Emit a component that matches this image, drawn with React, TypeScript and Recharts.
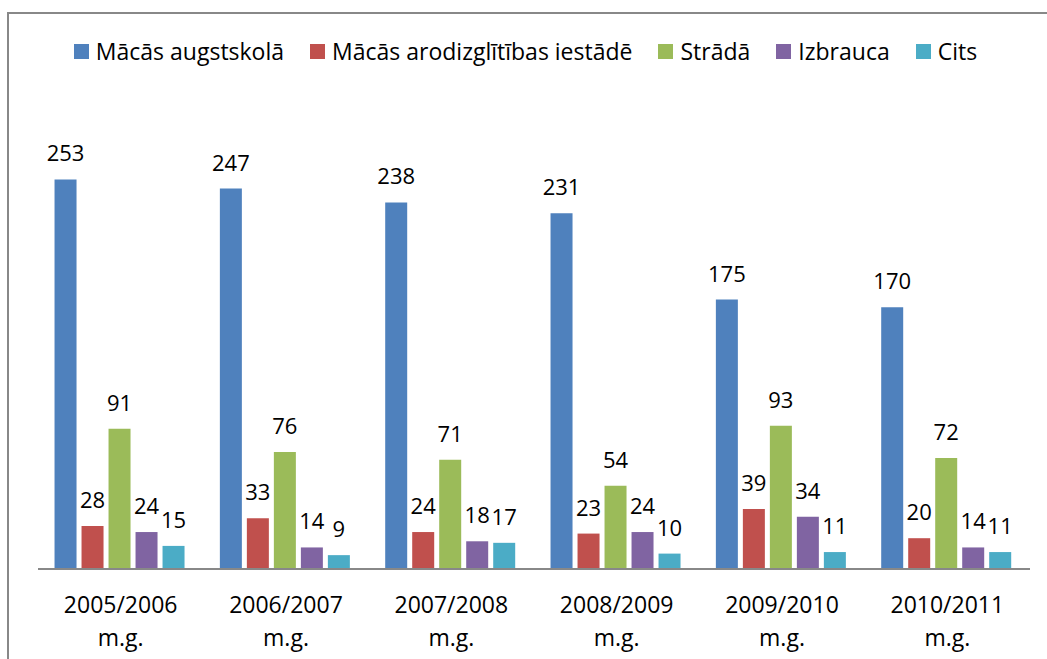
import { BarChart, Bar, XAxis, YAxis, Legend, LabelList } from 'recharts';

const W = 1047;
const H = 659;

// school years
const categories = ['2005/2006 m.g.', '2006/2007 m.g.', '2007/2008 m.g.', '2008/2009 m.g.', '2009/2010 m.g.', '2010/2011 m.g.'];

const augstskola = [253, 247, 238, 231, 175, 170];
const arodizglitiba = [28, 33, 24, 23, 39, 20];
const strada = [91, 76, 71, 54, 93, 72];
const izbrauca = [24, 14, 18, 24, 34, 14];
const cits = [15, 9, 17, 10, 11, 11];

const series = [
  { key: 'augstskola', name: 'Mācās augstskolā', color: '#4F81BD' },
  { key: 'arodizglitiba', name: 'Mācās arodizglītības iestādē', color: '#C0504D' },
  { key: 'strada', name: 'Strādā', color: '#9BBB59' },
  { key: 'izbrauca', name: 'Izbrauca', color: '#8064A2' },
  { key: 'cits', name: 'Cits', color: '#4BACC6' },
];

const data = categories.map((c, i) => ({
  name: c,
  augstskola: augstskola[i],
  arodizglitiba: arodizglitiba[i],
  strada: strada[i],
  izbrauca: izbrauca[i],
  cits: cits[i],
}));

const FONT = '"Open Sans", sans-serif';

// two-line category label ("2005/2006" / "m.g.")
const CategoryTick = (props: any) => {
  const { x, y, payload } = props;
  const parts = String(payload.value).split(' ');
  return (
    <text x={x} textAnchor="middle" fontSize={23} fontFamily={FONT} fill="#000">
      <tspan x={x} y={y + 36}>{parts[0]}</tspan>
      <tspan x={x} y={y + 69}>{parts[1]}</tspan>
    </text>
  );
};

const LegendContent = () => (
  <div style={{ display: 'flex', justifyContent: 'center', alignItems: 'center', height: 40, paddingLeft: 30, fontFamily: FONT, fontSize: 23, color: '#000' }}>
    {series.map((s) => (
      <div key={s.key} style={{ display: 'flex', alignItems: 'center', marginRight: 26 }}>
        <span style={{ display: 'inline-block', width: 15, height: 15, background: s.color, marginRight: 7 }} />
        <span>{s.name}</span>
      </div>
    ))}
  </div>
);

export default function App() {
  return (
    <div style={{ position: 'fixed', left: 0, top: 0, width: W, height: H, overflow: 'hidden', background: '#fff' }}>
      <div style={{ position: 'absolute', left: 7, top: 12, width: 1100, height: 700, border: '2px solid #888', boxSizing: 'border-box' }} />
      <div style={{ position: 'absolute', left: 0, top: 0 }}>
        <BarChart width={W} height={H} data={data} margin={{ top: 67, right: 17, bottom: 89, left: 38 }} barCategoryGap="10%" barGap={5}>
          <XAxis dataKey="name" tick={<CategoryTick />} tickLine={false} axisLine={{ stroke: '#888', strokeWidth: 2 }} interval={0} height={1} />
          <YAxis hide domain={[0, 300]} width={0} />
          <Legend verticalAlign="top" content={<LegendContent />} wrapperStyle={{ top: 31, left: 0, width: W }} />
          {series.map((s) => (
            <Bar key={s.key} dataKey={s.key} name={s.name} fill={s.color} isAnimationActive={false}>
              <LabelList dataKey={s.key} position="top" offset={18} fontSize={22} fontFamily={FONT} fill="#000" />
            </Bar>
          ))}
        </BarChart>
      </div>
    </div>
  );
}
